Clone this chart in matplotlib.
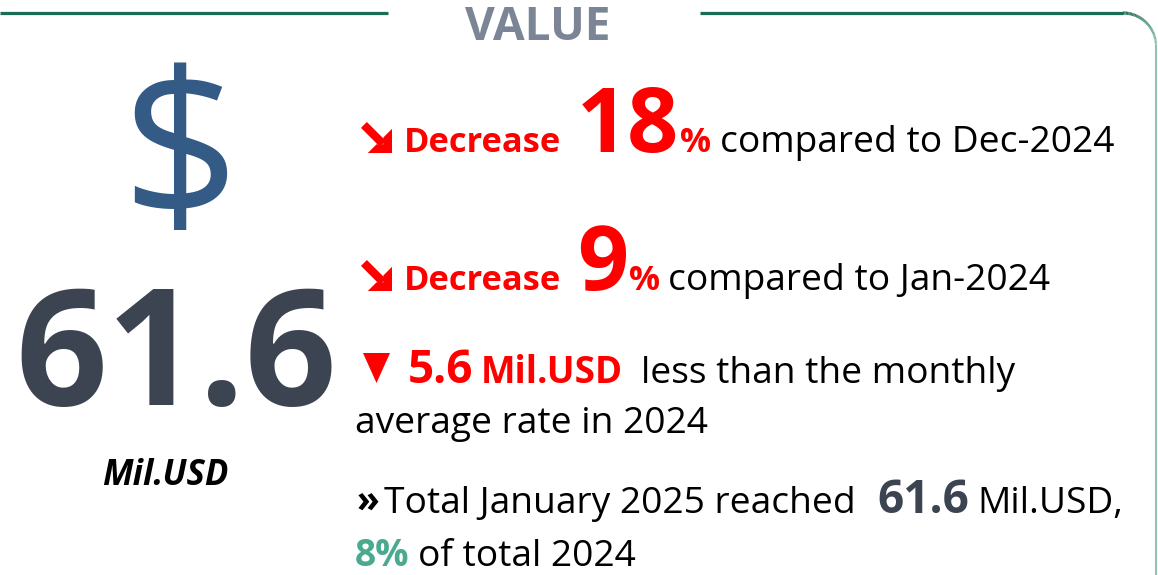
import numpy as np
import matplotlib
matplotlib.use("Agg")
import matplotlib.pyplot as plt
from matplotlib.patches import Polygon
from matplotlib.collections import LineCollection

# ---------------- data ----------------
title = "VALUE"
main_value = 61.6
unit = "Mil.USD"
pct_vs_prev_month = 18
prev_month_label = "Dec-2024"
pct_vs_same_month_last_year = 9
same_month_last_year_label = "Jan-2024"
diff_vs_monthly_avg = 5.6
avg_year = 2024
period_label = "January 2025"
share_of_prev_year_pct = 8

# ---------------- style ----------------
FONT = "Open Sans"
RED = "#ff0000"
DARK = "#3d4451"
BLUE = "#335b85"
TEAL = "#4aaa90"
GREY = "#7b8595"
GREEN_DARK = "#1b6c55"
GREEN_LIGHT = "#8fc3af"

W, H = 1158, 575
fig = plt.figure(figsize=(W / 100, H / 100), dpi=100)
ax = fig.add_axes([0, 0, 1, 1])
ax.set_xlim(0, W)
ax.set_ylim(H, 0)
ax.axis("off")


def txt(x, y, s, size, color="black", weight="normal", style="normal", ha="left", va="baseline"):
    ax.text(x, y, s, fontsize=size, color=color, fontweight=weight, fontstyle=style,
            family=FONT, ha=ha, va=va)


# ---------------- frame ----------------
ax.plot([0, 388], [13, 13], color=GREEN_DARK, lw=2.3, solid_capstyle="butt")
ax.plot([700, 1123], [13, 13], color=GREEN_DARK, lw=2.3, solid_capstyle="butt")
r, cx, cy = 33, 1123, 46
t = np.linspace(0, np.pi / 2, 40)
px = cx + r * np.sin(t)
py = cy - r * np.cos(t)
segs = np.stack([np.column_stack([px[:-1], py[:-1]]), np.column_stack([px[1:], py[1:]])], axis=1)
c0 = np.array(matplotlib.colors.to_rgb(GREEN_DARK))
c1 = np.array(matplotlib.colors.to_rgb(GREEN_LIGHT))
fr = np.linspace(0, 1, len(segs))
cols = [tuple(c0 + (c1 - c0) * f) for f in fr]
ax.add_collection(LineCollection(segs, colors=cols, linewidths=[2.3 - 0.8 * f for f in fr]))
ax.plot([1156, 1156], [46, H], color=GREEN_LIGHT, lw=1.5)

# title
txt(538, 40, title, 33, color=GREY, weight="bold", ha="center")

# ---------------- left block ----------------
txt(180, 218, "$", 148, color=BLUE, ha="center")
txt(176, 405, f"{main_value:.1f}", 116, color=DARK, weight="bold", ha="center")
txt(165, 485, unit, 25, color="black", weight="bold", style="italic", ha="center")


# ---------------- icons ----------------
def down_arrow(x0, y0, s=31):
    shaft = [(0.0, 0.19), (0.19, 0.0), (0.80, 0.61), (0.61, 0.80)]
    head = [(0.22, 1.0), (1.0, 1.0), (1.0, 0.22), (0.72, 0.50), (0.72, 0.72), (0.50, 0.72)]
    for pts in (shaft, head):
        ax.add_patch(Polygon([(x0 + a * s, y0 + b * s) for a, b in pts], closed=True,
                             facecolor=RED, edgecolor="none"))


REG = 26.7
BOLD_S = 24.8
BIG = 64.5

# line 1
down_arrow(361, 122)
txt(404, 152, "Decrease", BOLD_S, color=RED, weight="bold")
txt(577, 152, f"{pct_vs_prev_month}", BIG, color=RED, weight="bold")
txt(680, 152, "%", BOLD_S, color=RED, weight="bold")
txt(720, 152, f"compared to {prev_month_label}", REG)

# line 2
down_arrow(361, 260)
txt(404, 290, "Decrease", BOLD_S, color=RED, weight="bold")
txt(577, 290, f"{pct_vs_same_month_last_year}", BIG, color=RED, weight="bold")
txt(629, 290, "%", BOLD_S, color=RED, weight="bold")
txt(668, 290, f"compared to {same_month_last_year_label}", REG)

# line 3
ax.add_patch(Polygon([(363, 353), (390, 353), (376.5, 383)], closed=True, facecolor=RED, edgecolor="none"))
txt(408, 383, f"{diff_vs_monthly_avg:.1f}", 33, color=RED, weight="bold")
txt(481, 383, unit, 26.5, color=RED, weight="bold")
txt(641, 383, "less than the monthly", REG)
txt(355, 433, f"average rate in {avg_year}", REG)

# line 5
txt(357, 513, "\u00bb", REG, weight="bold")
txt(384, 513, f"Total {period_label} reached", REG)
txt(877, 513, f"{main_value:.1f}", 33, color=DARK, weight="bold")
txt(977, 513, f"{unit},", REG)
txt(355, 566, f"{share_of_prev_year_pct}%", REG, color=TEAL, weight="bold")
txt(418, 566, f"of total {avg_year}", REG)

fig.savefig("out.png", dpi=100)
